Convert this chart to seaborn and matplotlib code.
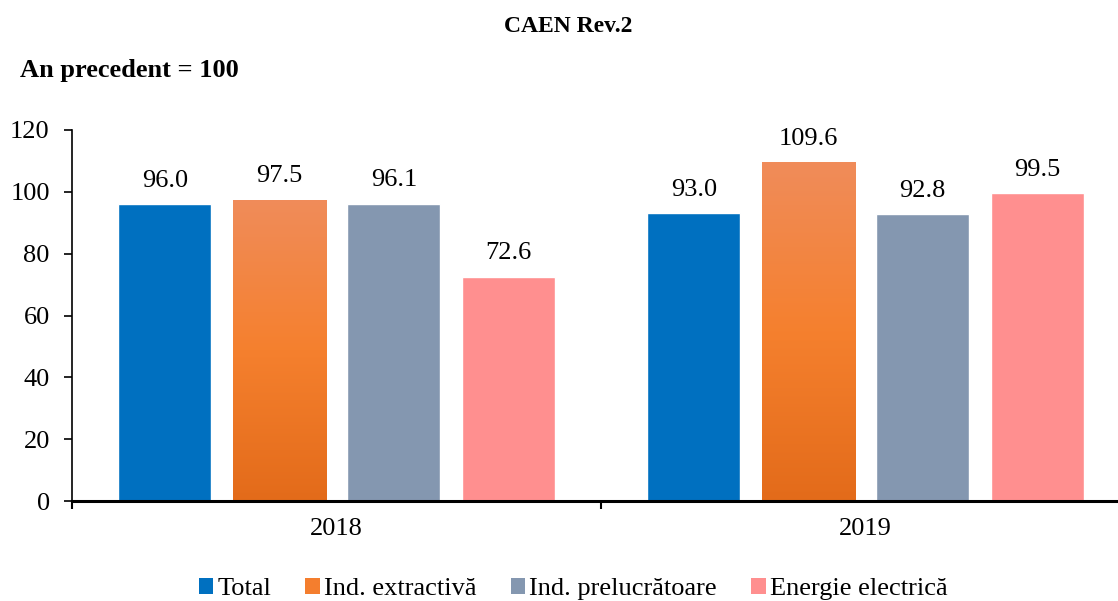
import numpy as np
import pandas as pd
import matplotlib
matplotlib.use("Agg")
import matplotlib.pyplot as plt
from matplotlib.colors import LinearSegmentedColormap
from matplotlib.patches import Patch
import seaborn as sns

years = ["2018", "2019"]
series = ["Total", "Ind. extractivă", "Ind. prelucrătoare", "Energie electrică"]
total = [96.0, 93.0]
extractiva = [97.5, 109.6]
prelucratoare = [96.1, 92.8]
energie = [72.6, 99.5]
yticks = [0, 20, 40, 60, 80, 100, 120]

colors = ["#0070C0", "#F47E2E", "#8497B0", "#FF8F8F"]

df = pd.DataFrame({
    "An": years * 4,
    "Serie": [s for s in series for _ in years],
    "Valoare": total + extractiva + prelucratoare + energie,
})

sns.set_theme(style="white")
plt.rcParams["font.family"] = ["Liberation Serif", "DejaVu Serif"]
plt.rcParams["text.color"] = "black"
plt.rcParams["xtick.color"] = "black"
plt.rcParams["ytick.color"] = "black"
plt.rcParams["axes.labelcolor"] = "black"

fig = plt.figure(figsize=(11.18, 6.01), dpi=100)
ax = fig.add_axes([72/1118, 100/601, (1130-72)/1118, 371/601])

sns.barplot(data=df, x="An", y="Valoare", hue="Serie", hue_order=series,
            order=years, palette=colors, width=0.866, gap=0.187,
            saturation=1, legend=False, ax=ax, errorbar=None)

# gradient on the orange bars
cmap = LinearSegmentedColormap.from_list("og", ["#E36B1A", "#F5802E", "#F08C5A"])
grad = np.linspace(0, 1, 256).reshape(-1, 1)
for cont, name in zip(ax.containers, series):
    for bar in cont.patches:
        x0, w, h = bar.get_x(), bar.get_width(), bar.get_height()
        if name == "Ind. extractivă":
            im = ax.imshow(grad, extent=[x0, x0 + w, 0, h], origin="lower",
                           aspect="auto", cmap=cmap, zorder=bar.get_zorder() + 0.1)
            im.set_clip_path(bar)
        ax.annotate(f"{h:.1f}", (x0 + w / 2, h), xytext=(0, 9),
                    textcoords="offset points", ha="center", va="bottom",
                    fontsize=19, color="black")

ax.set_xlim(-0.5, 1.5)
ax.set_ylim(0, 120)
ax.set_yticks(yticks)
ax.set_yticklabels([str(t) for t in yticks], fontsize=19)
ax.set_xticks([0, 1])
ax.set_xticklabels(years, fontsize=19)
ax.set_xticks([-0.5, 0.5, 1.5], minor=True)
ax.tick_params(axis="x", which="major", bottom=True, length=0, pad=12)
ax.tick_params(axis="x", which="minor", bottom=True, length=6, width=1.5,
               direction="out", color="black")
ax.tick_params(axis="y", left=True, length=6, width=1.2, direction="out",
               color="black", pad=10)
ax.set_xlabel("")
ax.set_ylabel("")
for s in ["top", "right"]:
    ax.spines[s].set_visible(False)
ax.spines["left"].set_color("black")
ax.spines["left"].set_linewidth(1.2)
ax.spines["bottom"].set_color("black")
ax.spines["bottom"].set_linewidth(2.2)

fig.text(568/1118, 1 - 27/601, "CAEN Rev.2", ha="center", va="center",
         fontsize=17, fontweight="bold", color="black")
fig.text(20/1118, 1 - 71/601, "An precedent = 100", ha="left", va="center",
         fontsize=19, fontweight="bold", color="black")

handles = [Patch(facecolor=c, edgecolor="none") for c in colors]
fig.legend(handles, series, loc="center", bbox_to_anchor=(573/1118, 1 - 589/601),
           ncol=4, frameon=False, fontsize=19, handlelength=0.55, handleheight=0.6,
           handletextpad=0.15, columnspacing=1.3, labelcolor="black")

fig.savefig("out.png", dpi=100)
